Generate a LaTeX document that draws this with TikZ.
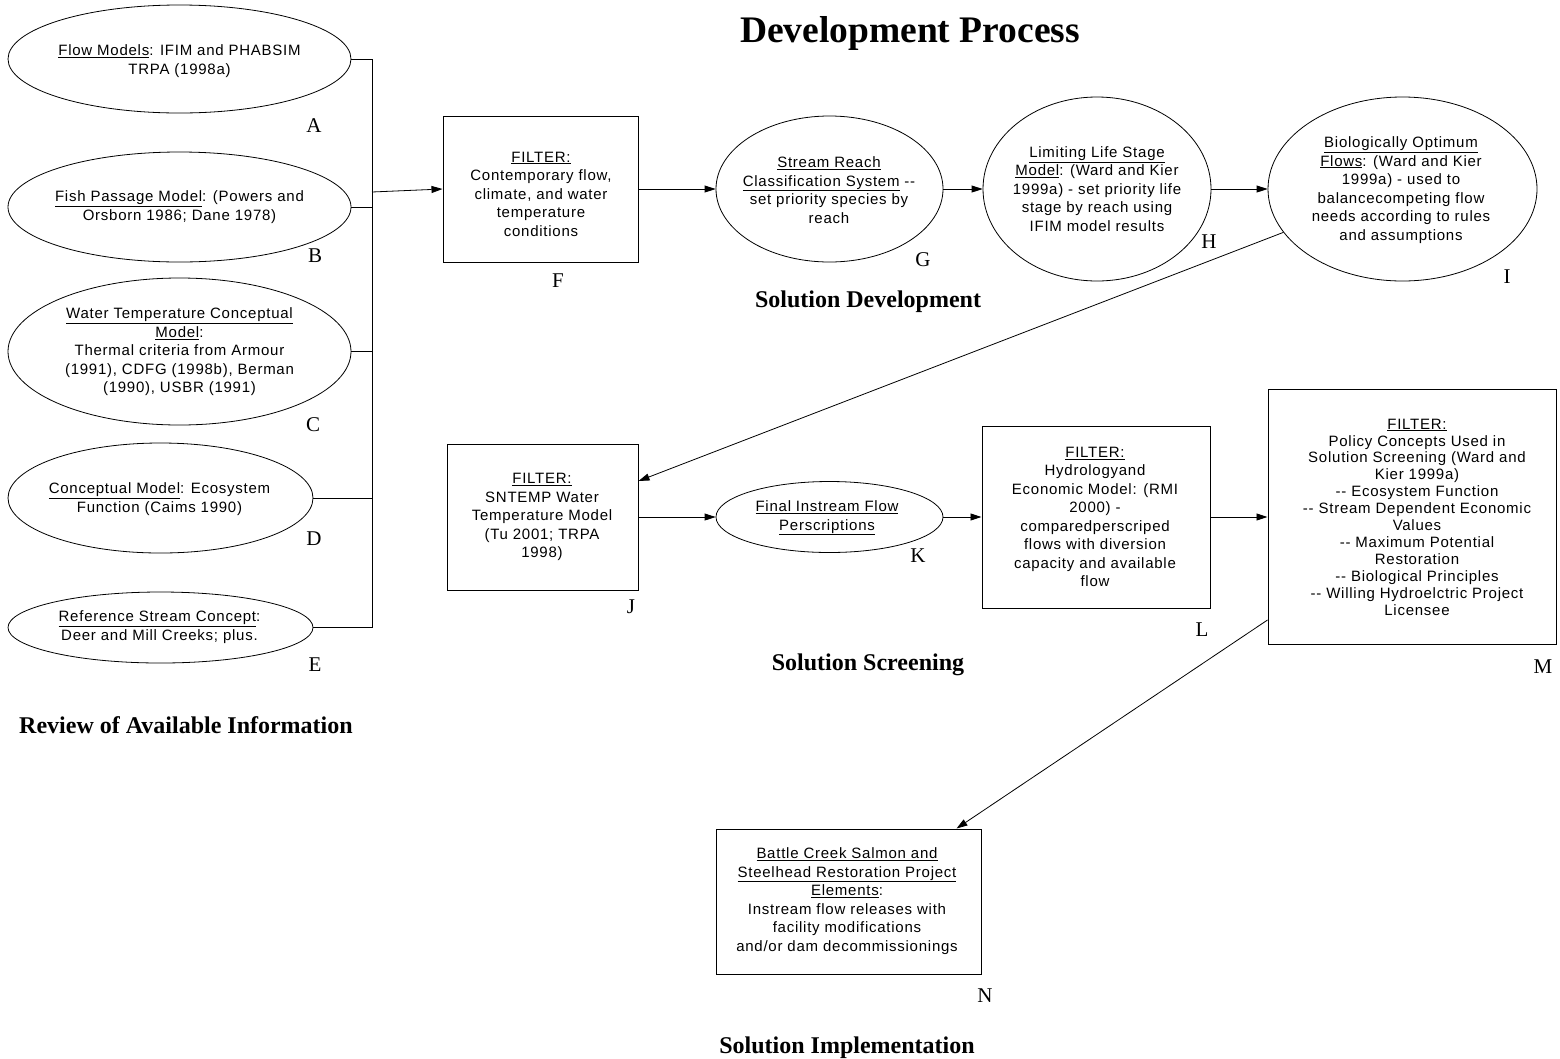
\documentclass[tikz,border=0pt]{standalone}
\usepackage{fontspec}
\setmainfont{Liberation Serif}
\newfontfamily\bodyfont[LetterSpace=5]{Liberation Sans}
\usetikzlibrary{arrows.meta,shapes.geometric,calc}
\newcommand{\myul}[1]{\underline{#1}}
\tikzset{
  ell/.style={draw, ellipse, line width=0.8pt, inner sep=0pt},
  box/.style={draw, rectangle, line width=1pt, inner sep=0pt},
  txt/.style={align=center, inner sep=0pt, font=\bodyfont\fontsize{15}{18.5}\selectfont},
  lett/.style={anchor=base, inner sep=0pt, font=\fontsize{21}{21}\selectfont},
  sect/.style={anchor=base, inner sep=0pt, font=\bfseries\fontsize{24}{24}\selectfont},
  conn/.style={line width=0.8pt},
  arr/.style={line width=0.8pt, -{Triangle[length=11pt,width=7pt]}},
}
\begin{document}
\begin{tikzpicture}[x=1pt,y=-1pt]
\useasboundingbox (0,0) rectangle (1560,1058);

% title
\node[anchor=base, inner sep=0pt, font=\bfseries\fontsize{37.5}{37.5}\selectfont] (title) at (910,42) {Development Process};

% left column
\node[ell, minimum width=343pt, minimum height=108pt] (A) at (179.5,59) {};
\node[txt] (At) at (179.5,61) {\myul{Flow Models}: IFIM and PHABSIM\\TRPA (1998a)};
\node[lett] (lA) at (314,132) {A};

\node[ell, minimum width=343pt, minimum height=110pt] (B) at (179.5,207) {};
\node[txt] (Bt) at (179.5,207) {\myul{Fish Passage Model}: (Powers and\\Orsborn 1986; Dane 1978)};
\node[lett] (lB) at (315,262) {B};

\node[ell, minimum width=343pt, minimum height=147pt] (C) at (179.5,351.5) {};
\node[txt] (Ct) at (179.5,352) {\myul{Water Temperature Conceptual}\\\myul{Model}:\\Thermal criteria from Armour\\(1991), CDFG (1998b), Berman\\(1990), USBR (1991)};
\node[lett] (lC) at (313,431) {C};

\node[ell, minimum width=305pt, minimum height=110pt] (D) at (160.5,498) {};
\node[txt] (Dt) at (159.5,499) {\myul{Conceptual Model}: Ecosystem\\Function (Caims 1990)};
\node[lett] (lD) at (314,545) {D};

\node[ell, minimum width=305pt, minimum height=71pt] (E) at (160.5,627.5) {};
\node[txt] (Et) at (159.5,627) {\myul{Reference Stream Concept}:\\Deer and Mill Creeks; plus.};
\node[lett] (lE) at (315,671) {E};

\node[sect] (review) at (186,733) {Review of Available Information};

% bus
\coordinate (busx) at (372,0);
\coordinate (busout) at (372,192);
\foreach \n in {A,B,C,D,E} \draw[conn] (\n.east) -- (\n.east -| busx);
\draw[conn] (busx |- A.east) -- (busx |- E.east);

% top row
\node[box, minimum width=195pt, minimum height=146pt] (F) at (540.5,189) {};
\node[txt] (Ft) at (541,194) {\myul{FILTER:}\\Contemporary flow,\\climate, and water\\temperature\\conditions};
\node[lett] (lF) at (558,287) {F};

\node[ell, minimum width=227pt, minimum height=146pt] (G) at (829.5,189) {};
\node[txt] (Gt) at (829,190) {\myul{Stream Reach}\\\myul{Classification System} -{}-\\set priority species by\\reach};
\node[lett] (lG) at (923,266) {G};

\node[ell, minimum width=228pt, minimum height=184pt] (H) at (1097,189) {};
\node[txt] (Ht) at (1097,189) {\myul{Limiting Life Stage}\\\myul{Model}: (Ward and Kier\\1999a) - set priority life\\stage by reach using\\IFIM model results};
\node[lett] (lH) at (1209,248) {H};

\node[ell, minimum width=269pt, minimum height=184pt] (I) at (1402.5,189) {};
\node[txt] (It) at (1401,190) {\myul{Biologically Optimum}\\\myul{Flows}: (Ward and Kier\\1999a) - used to\\balancecompeting flow\\needs according to rules\\and assumptions};
\node[lett] (lI) at (1507,283) {I};

\node[sect] (soldev) at (868,307) {Solution Development};

% middle row
\node[box, minimum width=191pt, minimum height=146pt] (J) at (542.5,517) {};
\node[txt] (Jt) at (542,517) {\myul{FILTER:}\\SNTEMP Water\\Temperature Model\\(Tu 2001; TRPA\\1998)};
\node[lett] (lJ) at (631,613) {J};

\node[ell, minimum width=227pt, minimum height=71pt] (K) at (829.5,517) {};
\node[txt] (Kt) at (827,518) {\myul{Final Instream Flow}\\\myul{Perscriptions}};
\node[lett] (lK) at (918,562) {K};

\node[box, minimum width=228pt, minimum height=182pt] (L) at (1096,517) {};
\node[txt] (Lt) at (1095,517) {\myul{FILTER:}\\Hydrologyand\\Economic Model: (RMI\\2000) -\\comparedperscriped\\flows with diversion\\capacity and available\\flow};
\node[lett] (lL) at (1202,636) {L};

\node[box, minimum width=288pt, minimum height=255pt] (M) at (1412,517) {};
\node[txt, font=\bodyfont\fontsize{15}{16.9}\selectfont] (Mt) at (1417,517) {\myul{FILTER:}\\Policy Concepts Used in\\Solution Screening (Ward and\\Kier 1999a)\\-{}- Ecosystem Function\\-{}- Stream Dependent Economic\\Values\\-{}- Maximum Potential\\Restoration\\-{}- Biological Principles\\-{}- Willing Hydroelctric Project\\Licensee};
\node[lett] (lM) at (1543,673) {M};

\node[sect] (solscr) at (868,670) {Solution Screening};

% bottom
\node[box, minimum width=265pt, minimum height=145pt] (N) at (848.5,901.5) {};
\node[txt] (Nt) at (847,901) {\myul{Battle Creek Salmon and}\\\myul{Steelhead Restoration Project}\\\myul{Elements}:\\Instream flow releases with\\facility modifications\\and/or dam decommissionings};
\node[lett] (lN) at (985,1002) {N};

\node[sect] (solimp) at (847,1053) {Solution Implementation};

% connectors
\draw[arr] (busout) -- (F.west);
\draw[arr] (F.east) -- (G.west);
\draw[arr] (G.east) -- (H.west);
\draw[arr] (H.east) -- (I.west);
\draw[arr] (I.200) -- ($(J.east)+(0,-36)$);
\draw[arr] (J.east) -- (K.west);
\draw[arr] (K.east) -- (L.west);
\draw[arr] (L.east) -- (M.west);
\draw[arr] ($(M.south west)+(0,-25)$) -- ($(N.north east)+(-25,0)$);
\end{tikzpicture}
\end{document}
